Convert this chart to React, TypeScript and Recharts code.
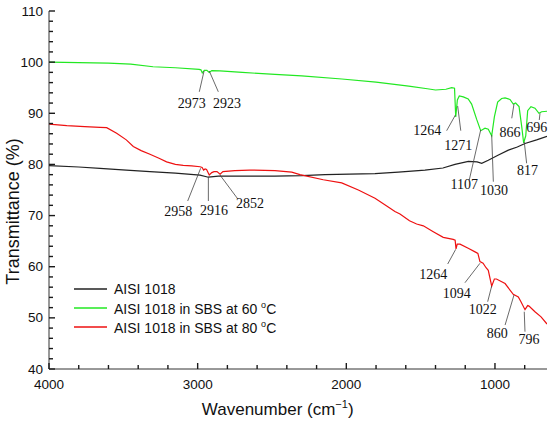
import {
  LineChart,
  Line,
  XAxis,
  YAxis,
  Legend,
  ReferenceLine,
  ReferenceDot,
} from 'recharts'

// FTIR spectra, wavenumber (cm-1) vs transmittance (%)
const blackWn = [4000, 3800, 3657, 3480, 3321, 3150, 2984, 2928, 2860, 2700, 2480, 2300, 2143, 1980, 1807, 1650, 1471, 1350, 1269, 1179, 1120, 1089, 1045, 980, 910, 850, 798, 720, 650]
const blackT = [79.75, 79.5, 79.24, 78.9, 78.6, 78.3, 77.9, 77.5, 77.7, 77.7, 77.7, 77.8, 78.0, 78.1, 78.2, 78.5, 78.9, 79.3, 80.0, 80.6, 80.5, 80.2, 80.8, 81.8, 82.8, 83.4, 84.1, 84.8, 85.5]

const greenWn = [4000, 3800, 3600, 3450, 3300, 3150, 2990, 2978, 2969, 2955, 2938, 2922, 2905, 2850, 2700, 2480, 2300, 2030, 1800, 1580, 1455, 1400, 1330, 1291, 1272, 1264, 1253, 1240, 1213, 1180, 1157, 1123, 1096, 1067, 1045, 1022, 1004, 982, 955, 932, 899, 877, 861, 838, 820, 807, 793, 780, 758, 731, 704, 686, 650]
const greenT = [100.0, 99.9, 99.8, 99.6, 99.1, 98.9, 98.6, 98.5, 97.9, 98.4, 98.4, 98.0, 98.35, 98.3, 98.0, 97.6, 97.3, 96.7, 96.1, 95.3, 94.8, 94.55, 94.7, 95.0, 94.9, 89.3, 92.6, 93.4, 93.2, 92.8, 91.8, 88.8, 86.6, 87.1, 86.9, 85.6, 89.3, 92.2, 92.9, 93.0, 92.7, 91.8, 92.0, 91.3, 87.4, 84.2, 85.6, 90.5, 91.3, 91.0, 90.0, 90.3, 90.4]

const redWn = [4000, 3880, 3760, 3657, 3612, 3545, 3480, 3433, 3380, 3321, 3260, 3209, 3150, 3097, 3040, 2984, 2970, 2960, 2950, 2940, 2922, 2905, 2890, 2870, 2849, 2830, 2750, 2650, 2480, 2367, 2312, 2155, 2031, 1919, 1807, 1718, 1673, 1639, 1575, 1527, 1482, 1415, 1348, 1281, 1268, 1262, 1254, 1235, 1180, 1134, 1115, 1101, 1080, 1060, 1045, 1022, 1004, 990, 932, 877, 843, 826, 798, 780, 771, 731, 690, 650]
const redT = [87.9, 87.6, 87.4, 87.26, 87.2, 86.1, 84.8, 83.5, 82.7, 82.0, 81.2, 80.5, 80.0, 79.8, 79.7, 79.55, 79.4, 78.9, 79.1, 79.0, 77.95, 78.4, 78.6, 78.6, 78.1, 78.6, 78.8, 78.9, 78.8, 78.5, 78.0, 77.0, 76.4, 75.0, 73.4, 71.7, 70.8, 70.3, 69.0, 68.35, 68.0, 66.85, 65.75, 65.35, 65.2, 63.5, 64.4, 64.4, 63.6, 62.9, 62.6, 61.0, 60.7, 59.8, 59.3, 56.2, 57.6, 57.6, 56.7, 54.6, 54.1, 53.2, 51.6, 52.4, 52.3, 51.2, 50.2, 48.8]

const seriesNames = ['AISI 1018', 'AISI 1018 in SBS at 60 °C', 'AISI 1018 in SBS at 80 °C']
const seriesColors = ['#222222', '#22e822', '#ee1111']

const xTicks = [4000, 3800, 3600, 3400, 3200, 3000, 2800, 2600, 2400, 2200, 2000, 1800, 1600, 1400, 1200, 1000, 800]
const yTicks = [40, 42, 44, 46, 48, 50, 52, 54, 56, 58, 60, 62, 64, 66, 68, 70, 72, 74, 76, 78, 80, 82, 84, 86, 88, 90, 92, 94, 96, 98, 100, 102, 104, 106, 108, 110]

// peak labels: text centre (tx, ty) and leader line (x1,y1)-(x2,y2), in data units
const peaks = [
  { label: '2973', tx: 3040, ty: 92.0, x1: 2989, y1: 94.2, x2: 2957, y2: 98.27 },
  { label: '2923', tx: 2803, ty: 92.0, x1: 2861, y1: 94.2, x2: 2922, y2: 98.27 },
  { label: '1264', tx: 1455, ty: 86.6, x1: 1325, y1: 86.6, x2: 1266, y2: 89.67 },
  { label: '1271', tx: 1247, ty: 83.66, x1: 1230, y1: 86.6, x2: 1251, y2: 91.42 },
  { label: '1107', tx: 1206, ty: 75.98, x1: 1173, y1: 76.95, x2: 1096, y2: 86.73 },
  { label: '1030', tx: 1006, ty: 74.86, x1: 1011, y1: 76.62, x2: 1022, y2: 85.75 },
  { label: '866', tx: 899, ty: 86.2, x1: 887, y1: 89.02, x2: 872, y2: 91.82 },
  { label: '696', tx: 719, ty: 87.18, x1: 702, y1: 88.69, x2: 697, y2: 90.0 },
  { label: '817', tx: 782, ty: 78.77, x1: 787, y1: 80.22, x2: 803, y2: 84.44 },
  { label: '2958', tx: 3130, ty: 70.76, x1: 3067, y1: 72.85, x2: 2980, y2: 79.24 },
  { label: '2916', tx: 2890, ty: 70.95, x1: 2928, y1: 72.85, x2: 2928, y2: 77.6 },
  { label: '2852', tx: 2648, ty: 72.4, x1: 2733, y1: 73.37, x2: 2850, y2: 77.93 },
  { label: '1264', tx: 1415, ty: 58.38, x1: 1318, y1: 60.53, x2: 1264, y2: 63.4 },
  { label: '1094', tx: 1257, ty: 54.8, x1: 1202, y1: 56.87, x2: 1101, y2: 60.67 },
  { label: '1022', tx: 1082, ty: 51.73, x1: 1049, y1: 53.16, x2: 1022, y2: 56.23 },
  { label: '860', tx: 984, ty: 46.98, x1: 932, y1: 48.6, x2: 872, y2: 54.47 },
  { label: '796', tx: 771, ty: 45.8, x1: 798, y1: 47.29, x2: 803, y2: 51.2 },
]

const toPoints = (wn: number[], t: number[]) => wn.map((w, i) => ({ wn: w, t: t[i] }))
const series = [toPoints(blackWn, blackT), toPoints(greenWn, greenT), toPoints(redWn, redT)]

const AXIS = '#333'
const TICK_INK = '#1a1a1a'
const SANS = '"Liberation Sans", Arial, sans-serif'
const SERIF = '"Liberation Serif", "Times New Roman", serif'

// inward tick marks drawn by the tick renderer itself; labels only on majors
const XTick = (props: any) => {
  const { x, y, payload } = props
  const major = payload.value % 1000 === 0
  return (
    <g>
      <path d={`M${x},${y}V${y - (major ? 6 : 4)}`} stroke={TICK_INK} strokeWidth={1.4} fill="none" />
      {major && (
        <text x={x} y={y + 20} textAnchor="middle" fontSize={13.5} fontFamily={SANS} fill="#111">
          {payload.value}
        </text>
      )}
    </g>
  )
}

const YTick = (props: any) => {
  const { x, y, payload } = props
  const major = payload.value % 10 === 0
  return (
    <g>
      <path d={`M${x},${y}H${x + (major ? 6 : 4)}`} stroke={TICK_INK} strokeWidth={1.4} fill="none" />
      {major && (
        <text x={x - 6} y={y} textAnchor="end" dominantBaseline="central" fontSize={13.5} fontFamily={SANS} fill="#111">
          {payload.value}
        </text>
      )}
    </g>
  )
}

const LegendBox = () => (
  <div style={{ fontFamily: SANS, fontSize: 14, color: '#111' }}>
    {seriesNames.map((name, i) => {
      const parts = name.split('°')
      return (
        <div key={name} style={{ display: 'flex', alignItems: 'center', height: 19, whiteSpace: 'nowrap' }}>
          <svg width={33} height={4} style={{ marginRight: 7, display: 'block' }}>
            <line x1={0} x2={33} y1={2} y2={2} stroke={seriesColors[i]} strokeWidth={1.3} />
          </svg>
          <span>
            {parts[0]}
            {parts.length > 1 && (
              <>
                <sup style={{ fontSize: 9 }}>o</sup>
                {parts[1]}
              </>
            )}
          </span>
        </div>
      )
    })}
  </div>
)

export default function App() {
  return (
    <div style={{ position: 'fixed', left: 0, top: 0, background: '#fff' }}>
      <LineChart width={550} height={423} margin={{ top: 11, right: 3, bottom: 0, left: 0 }}>
        <XAxis
          type="number"
          dataKey="wn"
          domain={[650, 4000]}
          reversed
          ticks={xTicks}
          interval={0}
          tickLine={false}
          tickSize={0}
          tickMargin={0}
          tick={<XTick />}
          height={54}
          stroke={AXIS}
          allowDataOverflow
          label={{
            content: () => (
              <text x={277.7} y={415} textAnchor="middle" fontSize={17} fontFamily={SANS} fill="#111">
                Wavenumber (cm
                <tspan fontSize={11} dy={-7}>−1</tspan>
                <tspan dy={7}>)</tspan>
              </text>
            ),
          }}
        />
        <XAxis xAxisId="top" orientation="top" type="number" domain={[650, 4000]} reversed tick={false} tickLine={false} height={0} stroke={AXIS} />
        <YAxis
          type="number"
          domain={[40, 110]}
          ticks={yTicks}
          interval={0}
          tickLine={false}
          tickSize={0}
          tickMargin={0}
          tick={<YTick />}
          width={49}
          stroke={AXIS}
          allowDataOverflow
          label={{
            content: () => (
              <text
                x={18.5}
                y={211.5}
                transform="rotate(-90 18.5 211.5)"
                textAnchor="middle"
                fontSize={18}
                fontFamily={SANS}
                fill="#111"
              >
                Transmittance (%)
              </text>
            ),
          }}
        />
        <YAxis yAxisId="right" orientation="right" type="number" domain={[40, 110]} tick={false} tickLine={false} width={0} stroke={AXIS} />
        {series.map((d, i) => (
          <Line
            key={seriesNames[i]}
            data={d}
            dataKey="t"
            name={seriesNames[i]}
            type="linear"
            stroke={seriesColors[i]}
            strokeWidth={1.2}
            dot={false}
            isAnimationActive={false}
          />
        ))}
        {peaks.map((p, i) => (
          <ReferenceLine
            key={`l${i}`}
            segment={[{ x: p.x1, y: p.y1 }, { x: p.x2, y: p.y2 }]}
            stroke="#444"
            strokeWidth={0.8}
            ifOverflow="visible"
          />
        ))}
        {peaks.map((p, i) => (
          <ReferenceDot
            key={`t${i}`}
            x={p.tx}
            y={p.ty}
            r={0}
            ifOverflow="visible"
            shape={(s: any) => (
              <text x={s.cx} y={s.cy} textAnchor="middle" dominantBaseline="central" fontSize={14} fontFamily={SERIF} fill="#111">
                {p.label}
              </text>
            )}
          />
        ))}
        <Legend
          layout="vertical"
          align="center"
          verticalAlign="middle"
          wrapperStyle={{ left: 74, top: 279.5, width: 240 }}
          content={() => <LegendBox />}
        />
      </LineChart>
    </div>
  )
}
